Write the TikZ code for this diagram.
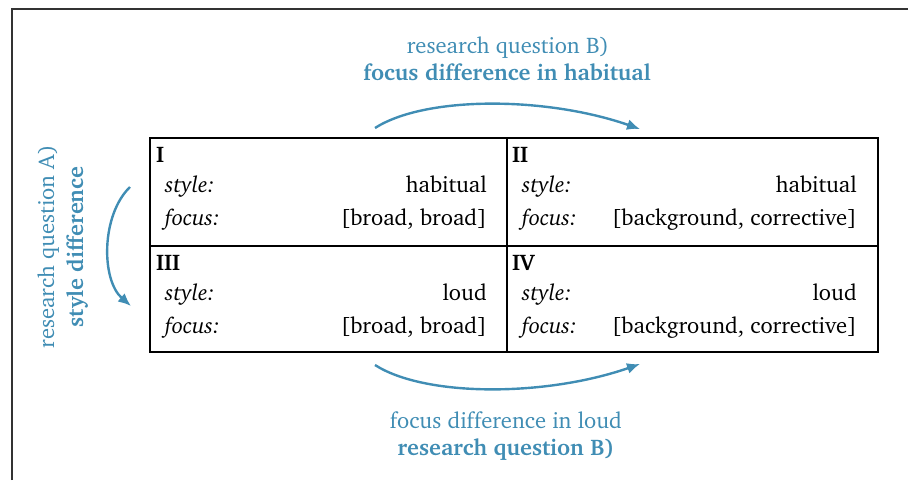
\documentclass[tikz,border=0pt]{standalone}
\usepackage[T1]{fontenc}
\renewcommand{\rmdefault}{bch}
\usetikzlibrary{arrows.meta}
\definecolor{qblue}{RGB}{64,141,180}
\newcommand{\fsz}{\fontsize{22.6}{26}\selectfont}
\begin{document}
\begin{tikzpicture}[x=1pt,y=-1pt,
  lbl/.style={inner sep=0pt, anchor=base west, font=\fsz\bfseries},
  key/.style={inner sep=0pt, anchor=base west, font=\fsz\itshape},
  val/.style={inner sep=0pt, anchor=base east, font=\fsz},
  qtext/.style={inner sep=0pt, anchor=base, text=qblue, font=\fsz},
  qbold/.style={inner sep=0pt, anchor=base, text=qblue, font=\fsz\bfseries},
  qarrow/.style={draw=qblue, line width=2.4pt, -{Latex[length=13pt,width=11pt]}},
]
\useasboundingbox (0,0) rectangle (908,480);
% frame
\draw[line width=1.2pt, draw=black!80] (12,480) -- (12,9) -- (908,9);
% table
\draw[line width=1.8pt] (150,246) -- (878,246);
\draw[line width=1.8pt] (507,138) -- (507,352);
\draw[line width=2.4pt] (150,138) rectangle (878,352);
% cell I
\node[lbl] (l1) at (156,162) {I};
\node[key] (s1) at (165,192) {style:};
\node[key] (f1) at (165,225) {focus:};
\node[val] (sv1) at (487,192) {habitual};
\node[val] (fv1) at (487,225) {[broad, broad]};
% cell II
\node[lbl] (l2) at (512,162) {II};
\node[key] (s2) at (522,192) {style:};
\node[key] (f2) at (522,225) {focus:};
\node[val] (sv2) at (857,192) {habitual};
\node[val] (fv2) at (857,225) {[background, corrective]};
% cell III
\node[lbl] (l3) at (156,270) {III};
\node[key] (s3) at (165,300) {style:};
\node[key] (f3) at (165,333) {focus:};
\node[val] (sv3) at (487,300) {loud};
\node[val] (fv3) at (487,333) {[broad, broad]};
% cell IV
\node[lbl] (l4) at (512,270) {IV};
\node[key] (s4) at (522,300) {style:};
\node[key] (f4) at (522,333) {focus:};
\node[val] (sv4) at (857,300) {loud};
\node[val] (fv4) at (857,333) {[background, corrective]};
% top labels
\node[qtext] (t1) at (508,53) {research question B)};
\node[qbold] (t2) at (507,80) {focus difference in habitual};
% bottom labels
\node[qtext] (b1) at (506,428) {focus difference in loud};
\node[qbold] (b2) at (506,455) {research question B)};
% left labels
\node[qtext, rotate=90] (a1) at (54,247) {research question A)};
\node[qbold, rotate=90] (a2) at (83,247) {style difference};
% arrows
\coordinate (ts) at (375,128);
\coordinate (te) at (640,129);
\coordinate (bs) at (375,365);
\coordinate (be) at (640,364);
\coordinate (ls) at (130,187);
\coordinate (le) at (131,306);
\draw[qarrow] (ts) .. controls (425,96) and (545,96) .. (te);
\draw[qarrow] (bs) .. controls (425,397) and (545,397) .. (be);
\draw[qarrow] (ls) .. controls (101,215) and (101,280) .. (le);
\end{tikzpicture}
\end{document}
